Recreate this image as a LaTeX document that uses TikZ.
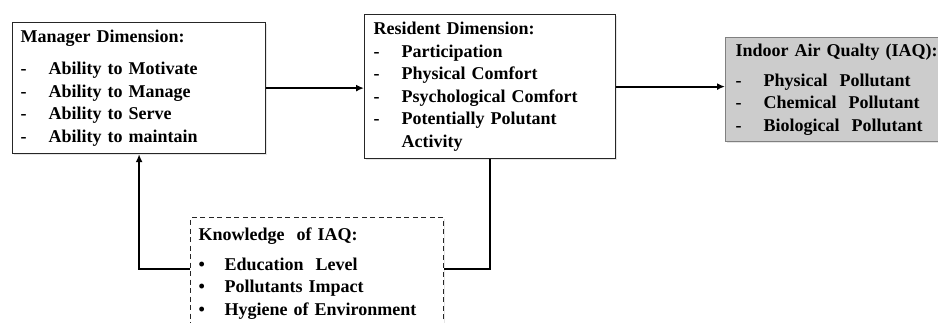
\documentclass[tikz,border=0pt]{standalone}
\usepackage{fontspec}
\setmainfont{Liberation Serif}
\usetikzlibrary{positioning,arrows.meta,shadows}
\newcommand{\itm}[1]{\makebox[28pt][l]{-}#1}
\newcommand{\bul}[1]{\makebox[26pt][l]{\textbullet}#1}

\begin{document}
\begin{tikzpicture}[
  x=1pt, y=-1pt,
  font=\fontsize{18}{22.5}\selectfont\bfseries, >={Latex[length=8pt,width=7pt]},
  box/.style={draw=black!85, line width=1.2pt, anchor=north west, align=left,
              inner ysep=2pt, drop shadow={shadow xshift=1.5pt, shadow yshift=-1.5pt, opacity=0.2}},
  dimbox/.style={box, fill=white},
  iaqbox/.style={box, draw=gray, fill=gray!40},
  knowbox/.style={box, dash pattern=on 5pt off 3.5pt, fill=white},
  link/.style={line width=2.2pt, draw=black},
]
\useasboundingbox (0,0) rectangle (938,322);
% -- manager dimension
\node[dimbox, inner xsep=8pt, text width=237pt, minimum height=131pt] (mgr) at (12,22)
  {Manager Dimension:\\[9.5pt]
   \itm{Ability to Motivate}\\
   \itm{Ability to Manage}\\
   \itm{Ability to Serve}\\
   \itm{Ability to maintain}};
% -- resident dimension
\node[dimbox, inner xsep=9pt, text width=233pt, minimum height=144pt] (res) at (364,14)
  {Resident Dimension:\\
   \itm{Participation}\\
   \itm{Physical Comfort}\\
   \itm{Psychological Comfort}\\
   \itm{Potentially Polutant}\\
   \hspace*{28pt}Activity};
% -- indoor air quality
\node[iaqbox, inner xsep=10pt, text width=215pt, minimum height=104pt] (iaq) at (725,37)
  {Indoor\,\,Air Qualty (IAQ):\\[7.5pt]
   \itm{Physical\ \ Pollutant}\\
   \itm{Chemical\ \ Pollutant}\\
   \itm{Biological\ \ Pollutant}};
% -- knowledge of IAQ
\node[knowbox, inner xsep=8pt, text width=237pt, minimum height=112pt] (know) at (190,217)
  {Knowledge\ \ of IAQ:\\[7.5pt]
   \bul{Education\ \ Level}\\
   \bul{Pollutants Impact}\\
   \bul{Hygiene of Environment}};
% -- flows
\draw[link, ->] (mgr.east) -- (mgr.east -| res.west);
\draw[link, ->] (res.east) -- (res.east -| iaq.west);
\draw[link] (res.south) |- ([yshift=5pt]know.east);
\draw[link, ->] ([yshift=5pt]know.west) -| (mgr.south);
\end{tikzpicture}
\end{document}
